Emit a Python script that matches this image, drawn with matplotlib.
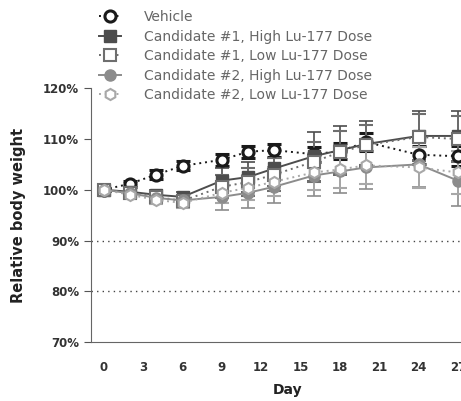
import numpy as np
import matplotlib.pyplot as plt
from matplotlib.lines import Line2D

days = [0, 2, 4, 6, 9, 11, 13, 16, 18, 20, 24, 27]

labels = ['Vehicle',
          'Candidate #1, High Lu-177 Dose',
          'Candidate #1, Low Lu-177 Dose',
          'Candidate #2, High Lu-177 Dose',
          'Candidate #2, Low Lu-177 Dose']

vehicle   = [100, 101.2, 103.0, 104.7, 105.9, 107.5, 107.8, 107.0, 107.6, 109.4, 106.9, 106.6]
c1_high   = [100, 99.6, 99.0, 98.6, 101.8, 102.5, 104.2, 106.6, 107.8, 109.0, 110.6, 110.6]
c1_low    = [100, 99.4, 98.6, 97.8, 100.6, 101.5, 103.0, 105.5, 107.4, 108.8, 110.4, 110.0]
c2_high   = [100, 99.3, 98.4, 97.9, 98.6, 99.4, 100.6, 102.8, 103.6, 104.4, 105.0, 101.8]
c2_low    = [100, 99.0, 98.0, 97.4, 99.4, 100.4, 101.6, 103.4, 104.0, 104.8, 104.4, 103.4]

vehicle_err = [0.3, 0.6, 0.8, 0.9, 1.2, 1.2, 1.3, 1.5, 1.6, 1.8, 1.8, 2.0]
c1_high_err = [0.3, 0.8, 0.9, 1.0, 2.5, 3.0, 3.5, 4.8, 4.8, 4.5, 5.0, 5.0]
c1_low_err  = [0.3, 0.8, 0.9, 1.0, 2.3, 2.8, 3.2, 4.0, 4.2, 4.0, 4.5, 4.5]
c2_high_err = [0.3, 0.8, 0.9, 1.0, 2.5, 3.0, 3.3, 4.0, 4.2, 4.2, 4.5, 5.0]
c2_low_err  = [0.3, 0.8, 0.9, 1.0, 2.0, 2.5, 2.8, 3.5, 3.6, 3.6, 4.0, 4.2]

yticks = [70, 80, 90, 100, 110, 120]
xticks = [0, 3, 6, 9, 12, 15, 18, 21, 24, 27]

fig = plt.figure(figsize=(4.61, 4.01), dpi=100)
ax = fig.add_axes([0.197, 0.147, 1.05 - 0.197, 0.78 - 0.147])

series = [
    (vehicle, vehicle_err, dict(color='#1a1a1a', marker='o', mfc='white', mec='#1a1a1a', mew=2.2, ms=8, ls=(0, (1, 2)), lw=1.4)),
    (c1_high, c1_high_err, dict(color='#4d4d4d', marker='s', mfc='#4d4d4d', mec='#4d4d4d', ms=8, ls='-', lw=1.4)),
    (c1_low,  c1_low_err,  dict(color='#6e6e6e', marker='s', mfc='white', mec='#6e6e6e', mew=1.5, ms=8, ls=(0, (1, 2)), lw=1.4)),
    (c2_high, c2_high_err, dict(color='#8c8c8c', marker='o', mfc='#8c8c8c', mec='#8c8c8c', ms=8, ls='-', lw=1.4)),
    (c2_low,  c2_low_err,  dict(color='#a8a8a8', marker='h', mfc='white', mec='#a8a8a8', mew=1.5, ms=8, ls=(0, (1, 2)), lw=1.4)),
]

handles = []
for (vals, err, style), lab in zip(series, labels):
    ax.errorbar(days, vals, yerr=err, capsize=5, elinewidth=1.2, capthick=1.2,
                ecolor=style['color'], **style)
    handles.append(Line2D([], [], **style))

for y in [90, 80]:
    ax.axhline(y, color='#444444', ls=(0, (1, 3)), lw=1.0)

ax.set_xlim(-1, 29)
ax.set_ylim(70, 120)
ax.set_yticks(yticks)
ax.set_yticklabels([f'{t}%' for t in yticks])
ax.set_xticks(xticks)
ax.tick_params(axis='x', length=0, pad=14)
ax.tick_params(axis='y', length=5, color='#555555')
for lab in ax.get_xticklabels() + ax.get_yticklabels():
    lab.set_fontweight('bold')
    lab.set_fontsize(8.5)
    lab.set_color('#333333')

for s in ['top', 'right']:
    ax.spines[s].set_visible(False)
ax.spines['left'].set_color('#666666')
ax.spines['bottom'].set_color('#666666')

ax.set_xlabel('Day', fontweight='bold', fontsize=10, color='#222222', labelpad=6)
ax.set_ylabel('Relative body weight', fontweight='bold', fontsize=10.5, color='#222222', labelpad=12)

leg = fig.legend(handles=handles, labels=labels, loc='upper left',
                 bbox_to_anchor=(0.215, 0.975), frameon=False, fontsize=10,
                 handlelength=1.6, labelspacing=0.4, handletextpad=1.6,
                 borderaxespad=0, borderpad=0)
for t in leg.get_texts():
    t.set_color('#666666')

fig.savefig('out.png', dpi=100)
